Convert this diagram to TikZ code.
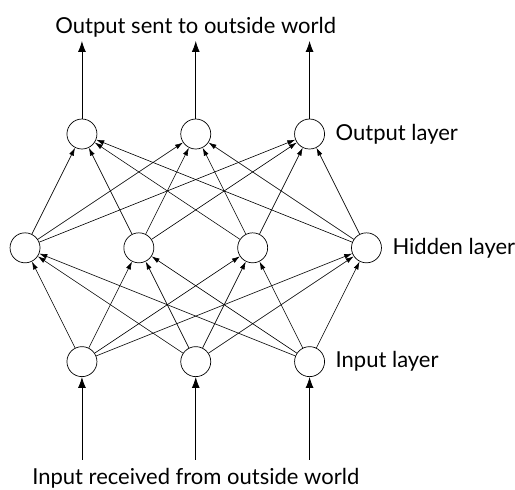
\documentclass[tikz,border=0pt]{standalone}
\usepackage{fontspec}
\setmainfont{Lato}
\usetikzlibrary{arrows.meta,positioning}

\tikzset{
  neuron/.style={circle, draw, line width=0.7pt, minimum size=30pt, inner sep=0pt},
  link/.style={line width=0.6pt, -{Latex[length=8pt,width=5pt]}},
  world/.style={line width=0.8pt, -{Latex[length=11pt,width=8pt]}},
  layername/.style={inner sep=0pt, font=\fontsize{22}{26}\selectfont}
}

\begin{document}
\begin{tikzpicture}
        \useasboundingbox (-0.88,-4.48) rectangle (17.22,12.71);

        % input layer
        \node[neuron] (I1) at (2,0) {};
        \node[neuron] (I2) at (6,0) {};
        \node[neuron] (I3) at (10,0) {};
        % hidden layer
        \node[neuron] (H1) at (0,4) {};
        \node[neuron] (H2) at (4,4) {};
        \node[neuron] (H3) at (8,4) {};
        \node[neuron] (H4) at (12,4) {};
        % output layer
        \node[neuron] (O1) at (2,8) {};
        \node[neuron] (O2) at (6,8) {};
        \node[neuron] (O3) at (10,8) {};

        \node[layername, right=0.37cm of O3] (Olabel) {Output layer};
        \node[layername, right=0.37cm of H4] (Hlabel) {Hidden layer};
        \node[layername, right=0.37cm of I3] (Ilabel) {Input layer};

        \node[layername] (outworld) at (6,11.76) {Output sent to outside world};
        \node[layername] (inworld) at (6,-4.1) {Input received from outside world};

        \coordinate (in1) at (2,-3.45);
        \coordinate (in2) at (6,-3.45);
        \coordinate (in3) at (10,-3.45);
        \coordinate (out1) at (2,11.27);
        \coordinate (out2) at (6,11.27);
        \coordinate (out3) at (10,11.27);

        \draw[world] (in1) -- (I1);
        \draw[world] (in2) -- (I2);
        \draw[world] (in3) -- (I3);
        \draw[world] (O1) -- (out1);
        \draw[world] (O2) -- (out2);
        \draw[world] (O3) -- (out3);

        \draw[link] (I1) -- (H1);
        \draw[link] (I1) -- (H2);
        \draw[link] (I1) -- (H3);
        \draw[link] (I1) -- (H4);
        \draw[link] (I2) -- (H1);
        \draw[link] (I2) -- (H2);
        \draw[link] (I2) -- (H3);
        \draw[link] (I2) -- (H4);
        \draw[link] (I3) -- (H1);
        \draw[link] (I3) -- (H2);
        \draw[link] (I3) -- (H3);
        \draw[link] (I3) -- (H4);

        \draw[link] (H1) -- (O1);
        \draw[link] (H1) -- (O2);
        \draw[link] (H1) -- (O3);
        \draw[link] (H2) -- (O1);
        \draw[link] (H2) -- (O2);
        \draw[link] (H2) -- (O3);
        \draw[link] (H3) -- (O1);
        \draw[link] (H3) -- (O2);
        \draw[link] (H3) -- (O3);
        \draw[link] (H4) -- (O1);
        \draw[link] (H4) -- (O2);
        \draw[link] (H4) -- (O3);
    \end{tikzpicture}
\end{document}
